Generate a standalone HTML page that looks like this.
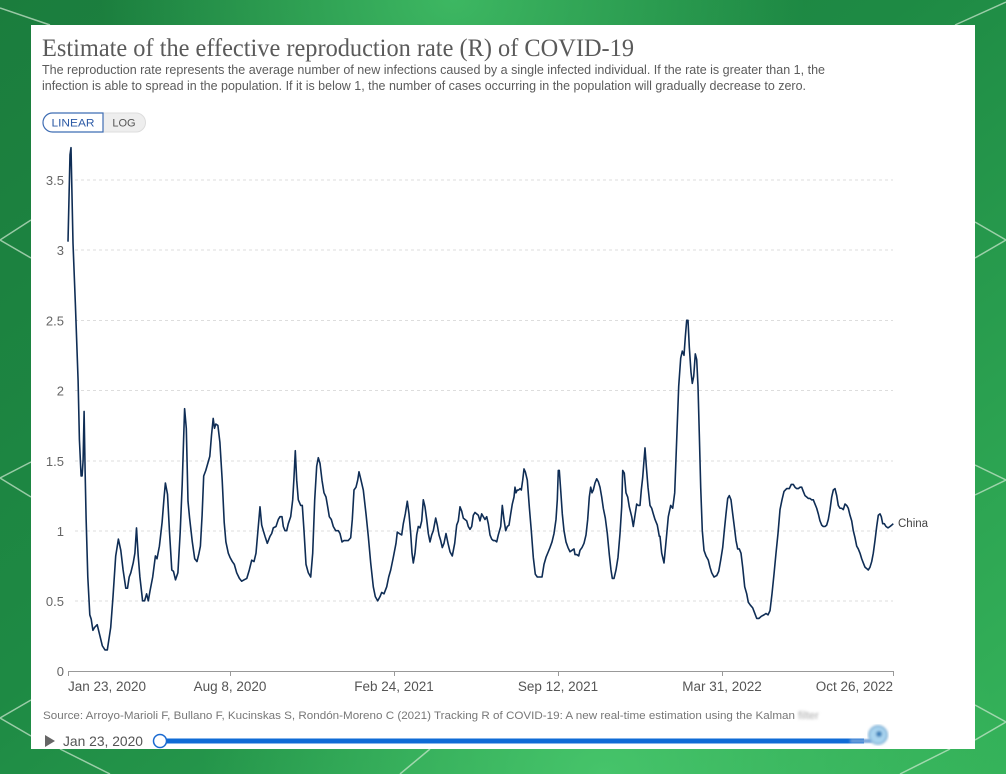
<!DOCTYPE html>
<html><head><meta charset="utf-8"><style>
html,body{margin:0;padding:0;width:1006px;height:774px;overflow:hidden;}
body{background:#1f8842;}
svg{display:block;}
</style></head><body>
<svg width="1006" height="774" viewBox="0 0 1006 774" xmlns="http://www.w3.org/2000/svg">
<defs>
<linearGradient id="bg" x1="0" y1="0" x2="1" y2="1">
<stop offset="0" stop-color="#1b7d3d"/>
<stop offset="0.45" stop-color="#1e8a44"/>
<stop offset="1" stop-color="#35b35a"/>
</linearGradient>
<radialGradient id="glow" cx="0.45" cy="0" r="0.35">
<stop offset="0" stop-color="#45c46a" stop-opacity="0.8"/>
<stop offset="1" stop-color="#45c46a" stop-opacity="0"/>
</radialGradient>
<radialGradient id="glow2" cx="0.6" cy="1" r="0.4">
<stop offset="0" stop-color="#4ccc70" stop-opacity="0.8"/>
<stop offset="1" stop-color="#4ccc70" stop-opacity="0"/>
</radialGradient>
<filter id="blur"><feGaussianBlur stdDeviation="1.2"/></filter>
</defs>
<rect width="1006" height="774" fill="url(#bg)"/>
<rect width="1006" height="774" fill="url(#glow)"/>
<rect width="1006" height="774" fill="url(#glow2)"/>
<g stroke="#cfe8d2" stroke-width="1.5" stroke-opacity="0.7" fill="none">
<polyline points="31,220 0,240 31,258"/>
<polyline points="31,462 0,478 31,497"/>
<polyline points="31,700 0,718 31,736"/>
<polyline points="975,222 1006,240 975,258"/>
<polyline points="975,465 1006,480 975,495"/>
<polyline points="975,705 1006,722 975,740"/>
<line x1="0" y1="8" x2="50" y2="25"/>
<line x1="955" y1="25" x2="1006" y2="2"/>
<line x1="60" y1="749" x2="110" y2="774"/>
<line x1="400" y1="774" x2="430" y2="749"/>
<line x1="900" y1="774" x2="950" y2="749"/>
</g>
<rect x="31" y="25" width="944" height="724" fill="#ffffff"/>

<text x="42" y="56" font-family="Liberation Serif, serif" font-size="25" fill="#5a5a5a" textLength="592" lengthAdjust="spacingAndGlyphs">Estimate of the effective reproduction rate (R) of COVID-19</text>
<text x="42" y="74" font-family="Liberation Sans, sans-serif" font-size="12.5" fill="#5b5b5b" textLength="783" lengthAdjust="spacingAndGlyphs">The reproduction rate represents the average number of new infections caused by a single infected individual. If the rate is greater than 1, the</text>
<text x="42" y="90" font-family="Liberation Sans, sans-serif" font-size="12.5" fill="#5b5b5b" textLength="764" lengthAdjust="spacingAndGlyphs">infection is able to spread in the population. If it is below 1, the number of cases occurring in the population will gradually decrease to zero.</text>

<path d="M103,113 H136 A9.5,9.5 0 0 1 136,132 H103 Z" fill="#eeeeee" stroke="#dddddd" stroke-width="1"/>
<path d="M103,113 H52.5 A9.5,9.5 0 0 0 52.5,132 H103 Z" fill="#ffffff" stroke="#3f6db3" stroke-width="1.2"/>
<text x="73" y="126.5" text-anchor="middle" font-family="Liberation Sans, sans-serif" font-size="11" fill="#2d5ba6" textLength="43" lengthAdjust="spacingAndGlyphs">LINEAR</text>
<text x="124" y="126.5" text-anchor="middle" font-family="Liberation Sans, sans-serif" font-size="11" fill="#555">LOG</text>

<g stroke="#dddddd" stroke-width="1" stroke-dasharray="3,3">
<line x1="75" y1="180" x2="893" y2="180"/>
<line x1="75" y1="250" x2="893" y2="250"/>
<line x1="75" y1="320.5" x2="893" y2="320.5"/>
<line x1="75" y1="390.5" x2="893" y2="390.5"/>
<line x1="75" y1="461" x2="893" y2="461"/>
<line x1="75" y1="531" x2="893" y2="531"/>
<line x1="75" y1="601" x2="893" y2="601"/>
</g>
<g font-family="Liberation Sans, sans-serif" font-size="13" fill="#666" text-anchor="end">
<text x="64" y="185">3.5</text>
<text x="64" y="255">3</text>
<text x="64" y="325.5">2.5</text>
<text x="64" y="395.5">2</text>
<text x="64" y="466">1.5</text>
<text x="64" y="536">1</text>
<text x="64" y="606">0.5</text>
<text x="64" y="676">0</text>
</g>
<g stroke="#999" stroke-width="1">
<line x1="68" y1="671.5" x2="893" y2="671.5"/>
<line x1="68.5" y1="671" x2="68.5" y2="676"/>
<line x1="230.5" y1="671" x2="230.5" y2="676"/>
<line x1="394.5" y1="671" x2="394.5" y2="676"/>
<line x1="558.5" y1="671" x2="558.5" y2="676"/>
<line x1="722.5" y1="671" x2="722.5" y2="676"/>
<line x1="893.5" y1="671" x2="893.5" y2="676"/>
</g>
<g font-family="Liberation Sans, sans-serif" font-size="13.5" fill="#555">
<text x="68" y="691">Jan 23, 2020</text>
<text x="230" y="691" text-anchor="middle">Aug 8, 2020</text>
<text x="394" y="691" text-anchor="middle">Feb 24, 2021</text>
<text x="558" y="691" text-anchor="middle">Sep 12, 2021</text>
<text x="722" y="691" text-anchor="middle">Mar 31, 2022</text>
<text x="893" y="691" text-anchor="end">Oct 26, 2022</text>
</g>

<g transform="translate(0 671) scale(1 -140.3)">
<polyline fill="none" stroke="#0f2d55" stroke-width="1.6" stroke-linejoin="round" vector-effect="non-scaling-stroke" points="68,3.06 70,3.68 71,3.73 73,3.05 75.4,2.61 78.1,2.07 79.4,1.65 81.1,1.39 82.1,1.39 83.1,1.5 84.1,1.85 85.1,1.43 86.1,1.09 87.8,0.67 89.8,0.40 91.2,0.37 92.9,0.29 94.5,0.31 97.2,0.33 99.6,0.26 102.3,0.18 105,0.15 107.3,0.15 110.7,0.31 113,0.53 115.7,0.82 118.4,0.94 120.8,0.86 123.1,0.72 125.8,0.59 127.5,0.59 129.2,0.67 130.8,0.70 133.2,0.77 134.9,0.84 136.5,1.02 138.2,0.82 139.9,0.67 142.6,0.50 144.6,0.50 146.6,0.55 148.3,0.50 150,0.57 152.7,0.67 155.4,0.82 157,0.80 159.4,0.89 162.1,1.06 164.1,1.24 165.4,1.34 167.5,1.26 169.5,0.99 171.8,0.72 173.5,0.71 175.5,0.65 177.9,0.70 180.2,0.99 182.2,1.33 183.6,1.65 184.6,1.87 186.3,1.73 188,1.21 189.6,1.09 192.3,0.92 194.7,0.80 197,0.78 199,0.84 200.4,0.89 202.1,1.11 203.7,1.39 205.8,1.43 207.8,1.48 209.8,1.53 211.5,1.68 213.2,1.80 214.5,1.73 215.8,1.76 217.9,1.75 219.9,1.63 222.2,1.36 224.2,1.06 225.9,0.92 228.3,0.84 230,0.81 232.3,0.78 234.3,0.76 236.7,0.70 239.4,0.66 241.7,0.64 244.1,0.65 246.8,0.66 249.3,0.72 251.7,0.79 254,0.78 256,0.84 258.3,1.03 260,1.17 261.7,1.04 263.3,1.0 265,0.96 267.3,0.91 270,0.96 271.7,0.98 273.3,1.02 276,1.03 278.3,1.08 280,1.10 282,1.10 283.3,1.03 285,1.0 286.7,1.0 288.3,1.05 290.7,1.10 292.7,1.22 294,1.38 295.3,1.57 296.7,1.36 298.3,1.22 300.7,1.18 302.3,1.18 304,1.0 306,0.76 308.3,0.70 310.7,0.67 312.7,0.84 314.7,1.22 316.7,1.46 318.3,1.52 320,1.48 322,1.36 324,1.27 326,1.24 327.7,1.17 329.3,1.10 331.3,1.08 333.3,1.03 335.7,1.0 338.3,1.0 340,0.98 342,0.92 344,0.93 346,0.93 348.3,0.93 350.7,0.95 352.3,1.08 354,1.29 356,1.31 357.7,1.36 359,1.42 360.7,1.37 363.3,1.29 366,1.12 368.3,0.96 370.7,0.77 373.3,0.60 375.3,0.53 377.7,0.50 380,0.53 381.7,0.56 384,0.55 386.7,0.60 388.7,0.67 390.7,0.72 393.3,0.81 396,0.91 397.3,0.99 399.3,0.98 401.7,0.97 403.3,1.05 405.3,1.12 407.3,1.21 409,1.12 410.7,0.98 412,0.84 413.3,0.77 415,0.84 416.7,0.97 418.3,1.03 420,1.02 421.7,1.07 423.3,1.22 425,1.17 426.7,1.08 428.3,0.98 430,0.92 431.7,0.97 433.3,1.0 435.7,1.09 437.3,1.04 439,0.97 440.7,0.93 442.3,0.88 444,0.91 446,0.98 448,0.91 450,0.85 452.3,0.82 454.7,0.91 456.7,1.04 458.3,1.07 460,1.17 461.7,1.14 463.3,1.09 465,1.08 466.7,1.07 468.3,1.03 470,1.01 471.7,1.03 473.3,1.11 475,1.13 476.7,1.12 478.3,1.11 480,1.07 481.7,1.12 483.3,1.10 485,1.08 486.7,1.10 488.3,1.05 490,0.97 491.7,0.94 493.3,0.93 495,0.93 496.7,0.92 498.3,0.97 500.7,1.03 502.3,1.18 504,1.08 505.7,1.0 507.3,1.03 509,1.04 510.7,1.12 512.3,1.19 514,1.24 515,1.31 516,1.27 517.3,1.29 518.7,1.29 520,1.30 521.3,1.29 522.7,1.36 524,1.44 525.3,1.42 527.3,1.36 529.3,1.17 531.3,1.0 533.3,0.81 535.3,0.69 537.3,0.67 540,0.67 542,0.67 544,0.76 546,0.81 548.3,0.85 550,0.88 552,0.92 554,0.98 556,1.08 557.3,1.22 558.3,1.43 559.3,1.43 560.7,1.29 562.3,1.12 564,1.0 566,0.92 568,0.88 570,0.85 572,0.86 574,0.87 575,0.83 576.7,0.83 578.7,0.82 580,0.86 582,0.88 584,0.91 586,0.97 587.7,1.08 589.3,1.24 590.7,1.31 592,1.27 593.3,1.29 595,1.34 596.7,1.37 598.3,1.35 600,1.31 601.7,1.24 603.3,1.16 605.3,1.09 607.3,0.98 609.3,0.83 611,0.72 612.3,0.66 614,0.66 616,0.72 618,0.81 620,0.98 621.7,1.17 622.7,1.43 624.3,1.41 626,1.27 627.7,1.24 629.3,1.17 631.7,1.10 633.3,1.03 635,1.11 636.7,1.19 638.3,1.18 640,1.18 641.3,1.29 642.7,1.38 644,1.50 645,1.59 646.3,1.46 648,1.31 650,1.18 651.7,1.16 653.3,1.12 655,1.08 657.3,1.04 659.3,0.96 660,0.96 661.7,0.84 664,0.77 666,0.92 668.3,1.10 670.7,1.18 672.7,1.16 674.7,1.27 676.7,1.65 678.7,2.03 680.7,2.23 682.3,2.28 684,2.25 685.3,2.38 686.7,2.50 688,2.50 689.3,2.31 691,2.13 692.3,2.05 693.7,2.10 695.3,2.26 696.7,2.22 698,2.03 699.3,1.69 700.7,1.31 702.3,1.0 704,0.86 706,0.82 708.3,0.79 710,0.74 711.7,0.70 714,0.67 716.7,0.68 718.7,0.71 720.7,0.79 722.7,0.88 724.3,1.0 726,1.12 727.7,1.23 729.3,1.25 731,1.22 732.7,1.12 734.3,1.03 736,0.93 737.7,0.87 739.3,0.87 741,0.84 742.7,0.74 744.7,0.60 746.7,0.55 748.3,0.49 750.3,0.47 752.7,0.45 754.3,0.42 756.7,0.375 759,0.375 761.3,0.39 764,0.40 766,0.41 768,0.40 770,0.43 772,0.55 774,0.69 776,0.84 778,0.98 780,1.15 782,1.22 784,1.28 786.7,1.30 789.3,1.30 791.3,1.33 793.3,1.33 795,1.31 796.7,1.30 798.3,1.30 800,1.31 801.7,1.31 803.3,1.28 805,1.25 806.7,1.24 808.3,1.23 810,1.23 811.7,1.22 813.3,1.22 815,1.19 816.7,1.16 818.3,1.12 820,1.07 821.7,1.04 823.3,1.03 825,1.03 826.7,1.04 828.3,1.08 830,1.15 831.7,1.24 833.3,1.29 835,1.30 836.7,1.25 838.3,1.18 840,1.16 841.7,1.16 843.3,1.15 845,1.19 846.7,1.18 848.3,1.16 850,1.11 851.7,1.07 853.3,1.0 855,0.95 856.7,0.89 858.3,0.87 860,0.84 861.7,0.80 863.3,0.77 865,0.74 866.7,0.73 868.3,0.72 870,0.74 871.7,0.78 873.3,0.84 875,0.93 876.7,1.03 878.3,1.11 880,1.12 881.3,1.10 882.7,1.05 884.3,1.05 886,1.03 888,1.02 890,1.03 891.7,1.04 893.3,1.05"/>
</g>
<text x="898" y="527" font-family="Liberation Sans, sans-serif" font-size="11.5" fill="#444">China</text>

<text x="43" y="719" font-family="Liberation Sans, sans-serif" font-size="11" fill="#777" textLength="752" lengthAdjust="spacingAndGlyphs">Source: Arroyo-Marioli F, Bullano F, Kucinskas S, Rondón-Moreno C (2021) Tracking R of COVID-19: A new real-time estimation using the Kalman</text>
<text x="798" y="719" font-family="Liberation Sans, sans-serif" font-size="11" fill="#aaa" filter="url(#blur)">filter</text>

<polygon points="45,735 55,741 45,747" fill="#666"/>
<text x="63" y="746" font-family="Liberation Sans, sans-serif" font-size="14" fill="#555" textLength="80" lengthAdjust="spacingAndGlyphs">Jan 23, 2020</text>
<rect x="166" y="738.5" width="698" height="5" fill="#0f6bd6"/>
<rect x="850" y="739" width="22" height="4" fill="#6d9fd8" filter="url(#blur)"/>
<circle cx="160" cy="741" r="6.5" fill="#fff" stroke="#1a6ad1" stroke-width="1.5"/>
<g filter="url(#blur)">
<circle cx="878" cy="735" r="9" fill="#a9d4ef" stroke="#6aa4cf" stroke-width="1.5"/>
<circle cx="879" cy="734" r="3" fill="#3a7fb8"/>
</g>
</svg>
</body></html>
